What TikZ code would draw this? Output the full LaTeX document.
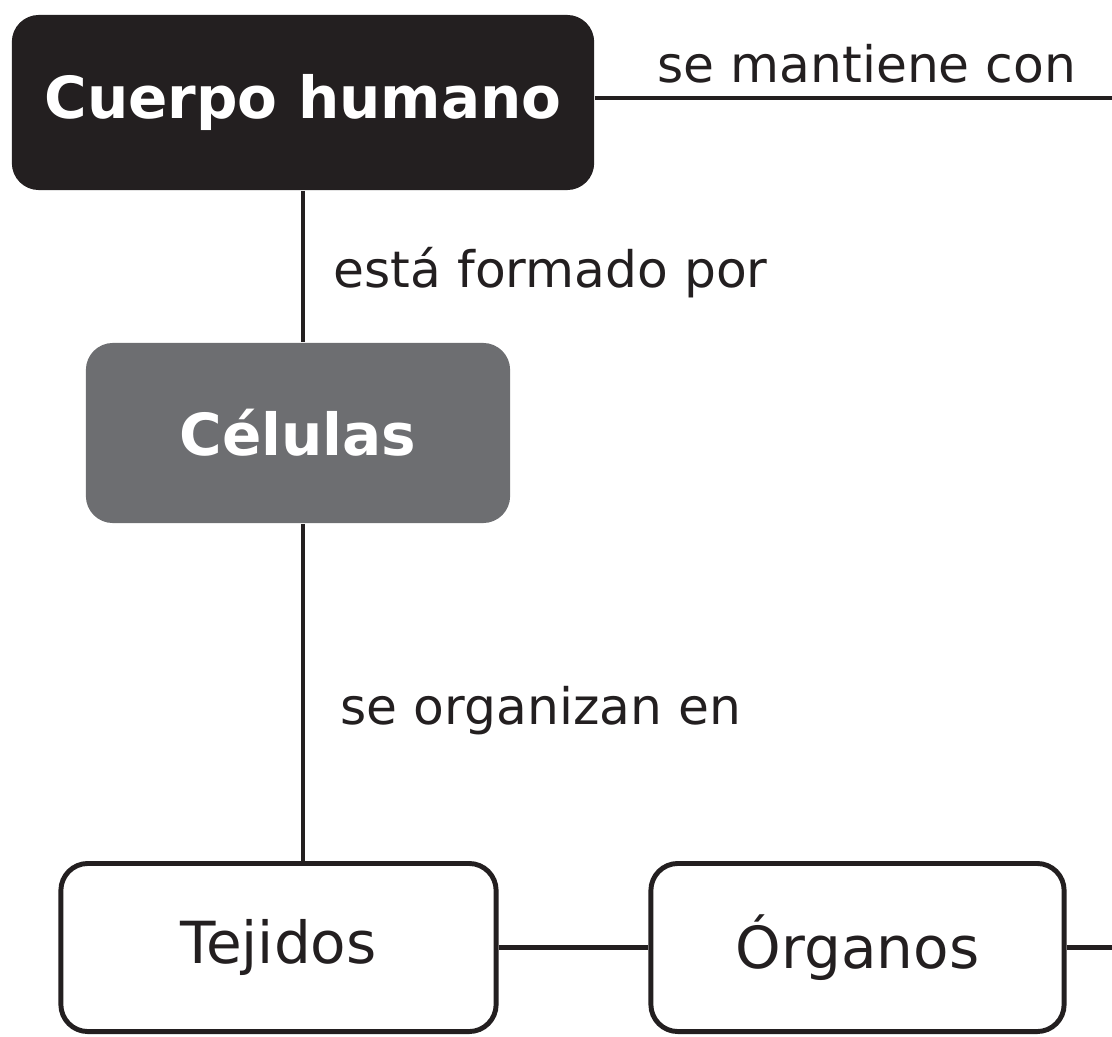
\documentclass[tikz,border=0pt]{standalone}
\usepackage{fontspec}
\setmainfont{DejaVu Sans}
\usepackage{xcolor}
\definecolor{tinta}{HTML}{231F20}
\definecolor{gris}{HTML}{6D6E71}
\begin{document}
\begin{tikzpicture}[x=0.01cm,y=-0.01cm,
caja/.style={rectangle,rounded corners=0.27cm,inner sep=0pt,font=\fontsize{16.5}{20}\selectfont},
enlace/.style={tinta,line width=1.15pt},
etiq/.style={anchor=base west,inner sep=0pt,text=tinta,font=\fontsize{14.3}{17}\selectfont}]
\useasboundingbox (0,0) rectangle (1112,1036);
\node[caja,fill=tinta,text=white,minimum width=5.82cm,minimum height=1.75cm,font=\fontsize{16.5}{20}\selectfont\bfseries](cuerpo) at (303,102.5){Cuerpo humano};
\node[caja,fill=gris,text=white,minimum width=4.24cm,minimum height=1.8cm,font=\fontsize{16.5}{20}\selectfont\bfseries](celulas) at (298,433){Células};
\node[caja,draw=tinta,line width=1.4pt,text=tinta,minimum width=4.35cm,minimum height=1.68cm](tejidos) at (278.5,947.5){Tejidos};
\node[caja,draw=tinta,line width=1.4pt,text=tinta,minimum width=4.13cm,minimum height=1.68cm](organos) at (857.5,947.5){Órganos};
\coordinate (fin1) at (1112,98);
\coordinate (fin2) at (1112,947.5);
\draw[enlace](cuerpo.east|-fin1)--(fin1)
(cuerpo.south)--(cuerpo.south|-celulas.north)
(celulas.south-|cuerpo.south)--(cuerpo.south|-tejidos.north)
(tejidos.east)--(organos.west)
(organos.east)--(fin2);
\node[etiq](l1) at (657,82){se mantiene con};
\node[etiq](l2) at (333,287){está formado por};
\node[etiq](l3) at (340,724){se organizan en};
\end{tikzpicture}
\end{document}
